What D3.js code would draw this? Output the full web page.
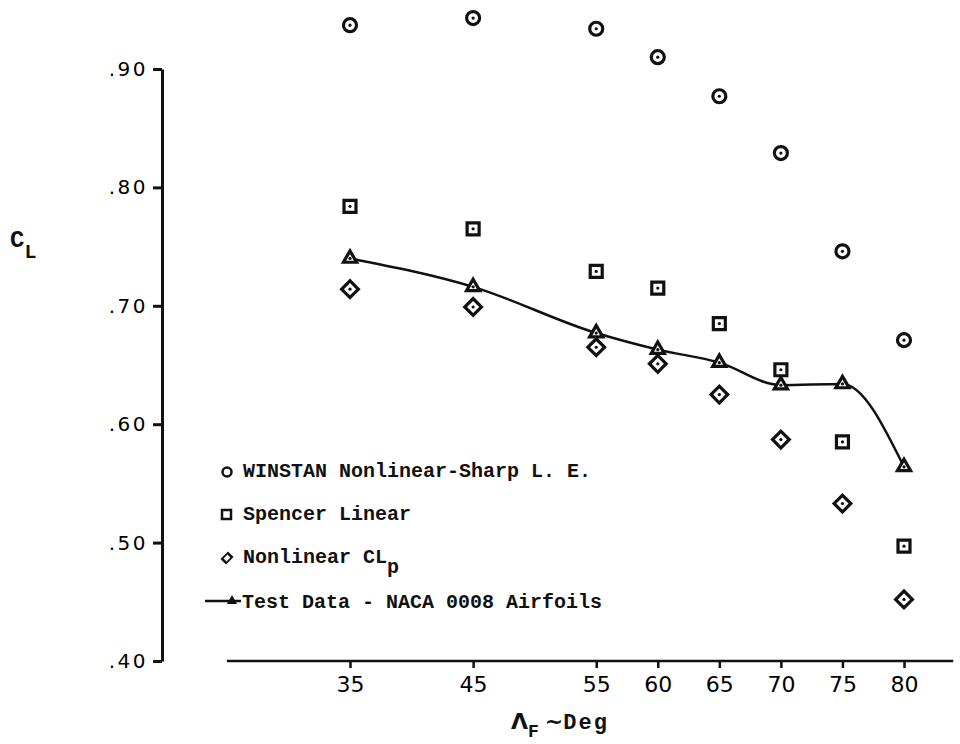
<!DOCTYPE html>
<html>
<head>
<meta charset="utf-8">
<script src="https://cdn.jsdelivr.net/npm/d3@7"></script>
<style>
  body { margin: 0; background: #fff; }
  .tick text { font-family: "DejaVu Sans", sans-serif; fill: #000; }
  .mono { font-family: "Liberation Mono", "Courier New", monospace; font-weight: bold; fill: #111; }
</style>
</head>
<body>
<div class="chart"></div>
<script>
// sweep angle of the fins, deg
var sweepAngles = [35, 45, 55, 60, 65, 70, 75, 80];
// lift coefficient for each method
var winstanCL   = [0.937, 0.943, 0.934, 0.910, 0.877, 0.829, 0.746, 0.671];
var spencerCL   = [0.784, 0.765, 0.729, 0.715, 0.685, 0.646, 0.585, 0.497];
var nonlinearCL = [0.714, 0.699, 0.665, 0.651, 0.625, 0.587, 0.533, 0.452];
var testCL      = [0.740, 0.716, 0.677, 0.663, 0.652, 0.633, 0.634, 0.564];
var yTicks = [0.40, 0.50, 0.60, 0.70, 0.80, 0.90];
var xTicks = sweepAngles;

var svgWidth = 960;
var svgHeight = 744;

var svg = d3.select(".chart")
  .append("svg")
  .attr("width", svgWidth)
  .attr("height", svgHeight);

svg.append("rect").attr("width", svgWidth).attr("height", svgHeight).attr("fill", "#fff");

var xScale = d3.scaleLinear().domain([35, 80]).range([350, 904]);
var yScale = d3.scaleLinear().domain([0.40, 0.90]).range([661, 69]);

// y axis
var leftAxis = d3.axisLeft(yScale)
  .tickValues(yTicks)
  .tickSize(9)
  .tickSizeOuter(0)
  .tickPadding(7)
  .tickFormat(d => d3.format(".2f")(d).slice(1));

svg.append("g")
  .attr("transform", "translate(162,0)")
  .call(leftAxis)
  .call(g => g.selectAll("path, line").attr("stroke", "#111").attr("stroke-width", 3))
  .call(g => g.selectAll("text")
    .attr("font-size", 20)
    .attr("letter-spacing", 2.5)
    .attr("dx", 2));

// x axis, baseline runs wider than the ticks
var bottomAxis = d3.axisBottom(xScale)
  .tickValues(xTicks)
  .tickSize(7)
  .tickSizeOuter(0);

var xg = svg.append("g")
  .attr("transform", "translate(0,661)")
  .call(bottomAxis);
xg.select(".domain").remove();
xg.append("line")
  .attr("x1", xScale(25)).attr("x2", xScale(84))
  .attr("stroke", "#111").attr("stroke-width", 2.5);
xg.selectAll("line").attr("stroke", "#111").attr("stroke-width", 2.5);
xg.selectAll("text")
  .attr("font-size", 22)
  .attr("y", 15)
  .attr("dy", "0.71em");

// test data curve
var testPts = sweepAngles.map((a, i) => [a, testCL[i]]);
var line = d3.line()
  .x(d => xScale(d[0]))
  .y(d => yScale(d[1]))
  .curve(d3.curveMonotoneX);

svg.append("path")
  .datum(testPts)
  .attr("d", line)
  .attr("fill", "none")
  .attr("stroke", "#111")
  .attr("stroke-width", 2.5);

function marker(values, shape) {
  var g = svg.append("g");
  var pts = g.selectAll("g")
    .data(values)
    .enter()
    .append("g")
    .attr("transform", (d, i) => `translate(${xScale(sweepAngles[i])},${yScale(d)})`);
  if (shape == "circle") {
    pts.append("circle").attr("r", 6.5);
  } else if (shape == "square") {
    pts.append("path").attr("d", d3.symbol(d3.symbolSquare, 144)());
  } else if (shape == "diamond") {
    pts.append("path").attr("d", d3.symbol(d3.symbolSquare, 140)()).attr("transform", "rotate(45)");
  } else {
    pts.append("path").attr("d", d3.symbol(d3.symbolTriangle, 75)());
  }
  pts.selectAll("circle, path")
    .attr("fill", "#fff")
    .attr("stroke", "#111")
    .attr("stroke-width", 3.2);
  pts.append("circle").attr("r", 1.6).attr("fill", "#111");
}

marker(winstanCL, "circle");
marker(spencerCL, "square");
marker(nonlinearCL, "diamond");
marker(testCL, "triangle");

// legend
var legend = svg.append("g");
legend.append("circle").attr("cx", 227).attr("cy", 472).attr("r", 4.5)
  .attr("fill", "none").attr("stroke", "#111").attr("stroke-width", 2.5);
legend.append("rect").attr("x", 222).attr("y", 510).attr("width", 9).attr("height", 9)
  .attr("fill", "none").attr("stroke", "#111").attr("stroke-width", 2.5);
legend.append("path").attr("d", d3.symbol(d3.symbolSquare, 50)())
  .attr("transform", "translate(227,558) rotate(45) scale(0.85,1.15)")
  .attr("fill", "none").attr("stroke", "#111").attr("stroke-width", 2.2);
legend.append("line").attr("x1", 205).attr("x2", 241).attr("y1", 601).attr("y2", 601)
  .attr("stroke", "#111").attr("stroke-width", 2.5);
legend.append("path").attr("d", d3.symbol(d3.symbolTriangle, 45)())
  .attr("transform", "translate(232,601)").attr("fill", "#111");

legend.append("text").attr("class", "mono").attr("x", 243).attr("y", 477).attr("font-size", 20)
  .text("WINSTAN Nonlinear-Sharp L. E.");
legend.append("text").attr("class", "mono").attr("x", 243).attr("y", 520).attr("font-size", 20)
  .text("Spencer Linear");
var t3 = legend.append("text").attr("class", "mono").attr("x", 243).attr("y", 563).attr("font-size", 20);
t3.append("tspan").text("Nonlinear CL");
t3.append("tspan").attr("dy", 10).text("p");
legend.append("text").attr("class", "mono").attr("x", 242).attr("y", 608).attr("font-size", 20)
  .text("Test Data - NACA 0008 Airfoils");

// axis titles
var yt = svg.append("text").attr("class", "mono").attr("x", 10).attr("y", 247).attr("font-size", 24);
yt.append("tspan").text("C");
yt.append("tspan").attr("dy", 11).attr("font-size", 20).text("L");

var xt = svg.append("text").attr("class", "mono").attr("x", 511).attr("y", 729).attr("font-size", 22);
xt.append("tspan").attr("font-family", "DejaVu Sans").text("Λ");
xt.append("tspan").attr("dy", 8).attr("font-size", 18).text("F");
xt.append("tspan").attr("dy", -8).attr("dx", 6).attr("font-family", "DejaVu Sans").text("~");
xt.append("tspan").attr("font-size", 22).attr("letter-spacing", 2).text("Deg");
</script>
</body>
</html>
